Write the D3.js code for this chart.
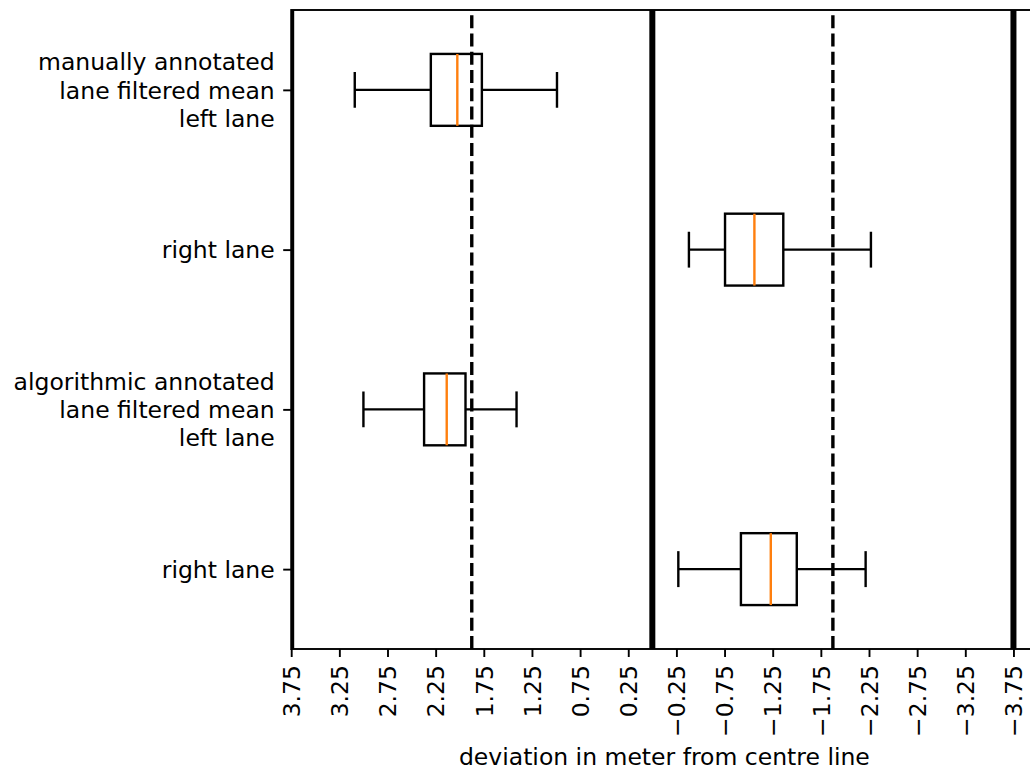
<!DOCTYPE html>
<html>
<head>
<meta charset="utf-8">
<script src="https://cdn.jsdelivr.net/npm/d3@7"></script>
<style>
  body { margin: 0; background: #fff; }
  svg { display: block; font-family: "DejaVu Sans", sans-serif; }
</style>
</head>
<body>
<svg id="chart"></svg>
<script>
var width = 1030;
var height = 771;

// categories, top to bottom
var categories = [
  "manually annotated\nlane filtered mean\nleft lane",
  "right lane",
  "algorithmic annotated\nlane filtered mean\nleft lane",
  "right lane"
];

// box statistics (metres from centre line)
var whiskerLow  = [3.09, -0.38, 3.00, -0.27];
var q1          = [2.30, -0.755, 2.37, -0.92];
var median      = [2.025, -1.06, 2.135, -1.23];
var q3          = [1.77, -1.36, 1.94, -1.50];
var whiskerHigh = [0.99, -2.27, 1.41, -2.215];

var laneBounds  = [3.75, 0, -3.75];
var laneCentres = [1.875, -1.875];

var xTicks = [3.75, 3.25, 2.75, 2.25, 1.75, 1.25, 0.75, 0.25,
              -0.25, -0.75, -1.25, -1.75, -2.25, -2.75, -3.25, -3.75];
var xLimits = [3.75, -4.0];

var plotLeft = 291.2, plotTop = 10, plotBottom = 649;
var plotRight = plotLeft + 7.75 * 96.3;
var fontSize = 23.5;

var data = categories.map(function(c, i){
  return {
    label: c, pos: i + 1,
    lo: whiskerLow[i], q1: q1[i], med: median[i], q3: q3[i], hi: whiskerHigh[i]
  };
});

var xScale = d3.scaleLinear()
                .domain(xLimits)
                .range([plotLeft, plotRight]);

var yScale = d3.scaleLinear()
                .domain([0.5, categories.length + 0.5])
                .range([plotTop, plotBottom]);

var boxHalf = (yScale(1.45) - yScale(1)) / 2;   // width 0.45
var capHalf = boxHalf / 2;

var svg = d3.select("#chart")
    .attr("width", width)
    .attr("height", height);

svg.append("rect")
    .attr("width", width).attr("height", height)
    .attr("fill", "#fff");

svg.append("clipPath").attr("id", "plot-clip")
  .append("rect")
    .attr("x", plotLeft).attr("y", plotTop)
    .attr("width", plotRight - plotLeft).attr("height", plotBottom - plotTop);

var plot = svg.append("g").attr("clip-path", "url(#plot-clip)");

// boxes
var box = plot.selectAll("g.box")
  .data(data)
  .enter()
  .append("g")
    .attr("class", "box");

box.append("line")
    .attr("x1", d => xScale(d.lo)).attr("x2", d => xScale(d.q1))
    .attr("y1", d => yScale(d.pos)).attr("y2", d => yScale(d.pos))
    .attr("stroke", "#000").attr("stroke-width", 2.4);

box.append("line")
    .attr("x1", d => xScale(d.q3)).attr("x2", d => xScale(d.hi))
    .attr("y1", d => yScale(d.pos)).attr("y2", d => yScale(d.pos))
    .attr("stroke", "#000").attr("stroke-width", 2.4);

box.append("line")
    .attr("x1", d => xScale(d.lo)).attr("x2", d => xScale(d.lo))
    .attr("y1", d => yScale(d.pos) - capHalf).attr("y2", d => yScale(d.pos) + capHalf)
    .attr("stroke", "#000").attr("stroke-width", 2.4);

box.append("line")
    .attr("x1", d => xScale(d.hi)).attr("x2", d => xScale(d.hi))
    .attr("y1", d => yScale(d.pos) - capHalf).attr("y2", d => yScale(d.pos) + capHalf)
    .attr("stroke", "#000").attr("stroke-width", 2.4);

box.append("rect")
    .attr("x", d => xScale(d.q1))
    .attr("width", d => xScale(d.q3) - xScale(d.q1))
    .attr("y", d => yScale(d.pos) - boxHalf)
    .attr("height", 2 * boxHalf)
    .attr("fill", "none")
    .attr("stroke", "#000").attr("stroke-width", 2.4);

box.append("line")
    .attr("x1", d => xScale(d.med)).attr("x2", d => xScale(d.med))
    .attr("y1", d => yScale(d.pos) - boxHalf).attr("y2", d => yScale(d.pos) + boxHalf)
    .attr("stroke", "#ff7f0e").attr("stroke-width", 2.4);

// lane boundaries and lane centres
plot.selectAll("line.bound")
  .data(laneBounds)
  .enter()
  .append("line")
    .attr("class", "bound")
    .attr("x1", d => xScale(d)).attr("x2", d => xScale(d))
    .attr("y1", plotBottom).attr("y2", plotTop)
    .attr("stroke", "#000").attr("stroke-width", 6);

plot.selectAll("line.centre")
  .data(laneCentres)
  .enter()
  .append("line")
    .attr("class", "centre")
    .attr("x1", d => xScale(d)).attr("x2", d => xScale(d))
    .attr("y1", plotBottom).attr("y2", plotTop)
    .attr("stroke", "#000").attr("stroke-width", 3.4)
    .attr("stroke-dasharray", "13,5.26");

// frame
svg.append("rect")
    .attr("x", plotLeft).attr("y", plotTop)
    .attr("width", plotRight - plotLeft).attr("height", plotBottom - plotTop)
    .attr("fill", "none")
    .attr("stroke", "#000").attr("stroke-width", 1.9);

// x axis
var xAxis = d3.axisBottom(xScale)
                .tickValues(xTicks)
                .tickSize(8)
                .tickFormat(d3.format(".2f"));

var gx = svg.append("g")
    .attr("transform", "translate(0," + plotBottom + ")")
    .call(xAxis);
gx.select(".domain").remove();
gx.selectAll(".tick line").attr("stroke-width", 1.9);
gx.selectAll(".tick text")
    .attr("transform", "rotate(-90)")
    .attr("text-anchor", "end")
    .attr("x", -16)
    .attr("y", 0)
    .attr("dy", "0.35em")
    .attr("fill", "#000")
    .style("font-size", fontSize + "px")
    .style("font-family", "DejaVu Sans");

// y axis
var yAxis = d3.axisLeft(yScale)
                .tickValues(data.map(d => d.pos))
                .tickSize(8)
                .tickFormat("");

var gy = svg.append("g")
    .attr("transform", "translate(" + plotLeft + ",0)")
    .call(yAxis);
gy.select(".domain").remove();
gy.selectAll(".tick line").attr("stroke-width", 1.9);

gy.selectAll(".tick").each(function(p){
  var lines = categories[p - 1].split("\n");
  var t = d3.select(this).append("text")
      .attr("text-anchor", "end")
      .attr("fill", "#000")
      .style("font-size", fontSize + "px")
      .style("font-family", "DejaVu Sans");
  lines.forEach(function(l, j){
    t.append("tspan")
        .attr("x", -16.5)
        .attr("y", (j - (lines.length - 1) / 2) * 1.2 * fontSize)
        .attr("dy", "0.35em")
        .text(l);
  });
});

// axis label
svg.append("text")
    .attr("x", (plotLeft + plotRight) / 2)
    .attr("y", 765)
    .style("text-anchor", "middle")
    .style("font-size", fontSize + "px")
    .text("deviation in meter from centre line");
</script>
</body>
</html>
